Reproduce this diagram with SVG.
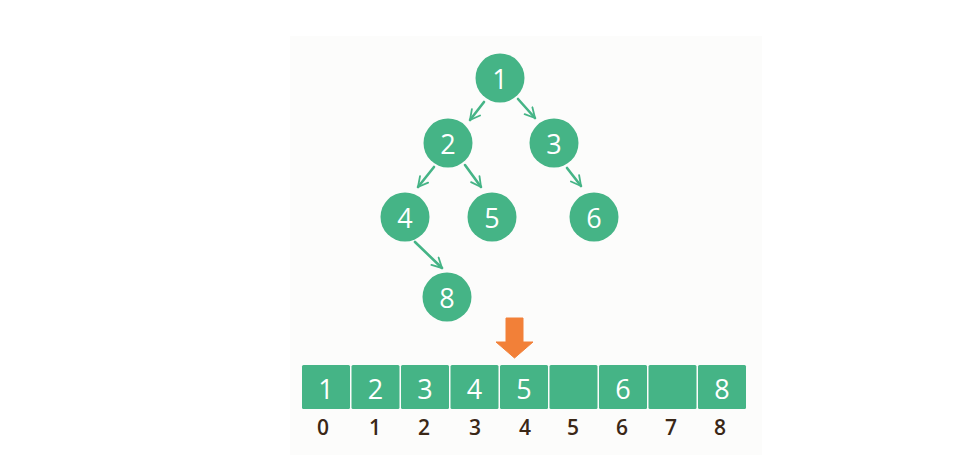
<svg xmlns="http://www.w3.org/2000/svg" width="979" height="464" viewBox="0 0 979 464">
  <defs>
    <marker id="ah" viewBox="0 0 10 10" refX="9" refY="5" markerWidth="5" markerHeight="5" orient="auto" markerUnits="strokeWidth">
      <path d="M1.5,1 L9,5 L1.5,9" fill="none" stroke="#45b486" stroke-width="1.4" stroke-linecap="round" stroke-linejoin="round"/>
    </marker>
  </defs>
  <style>
    .node circle { fill: #45b486; }
    .lbl { font-family: "Open Sans", "Liberation Sans", sans-serif; font-size: 27px; fill: #ffffff; text-anchor: middle; dominant-baseline: central; }
    .cell { fill: #45b486; }
    .idx { font-family: "Open Sans", "Liberation Sans", sans-serif; font-size: 21px; font-weight: 600; fill: #3a2716; text-anchor: middle; dominant-baseline: central; }
    .edge { stroke: #45b486; stroke-width: 2.6; fill: none; stroke-linecap: round; marker-end: url(#ah); }
  </style>
  <rect x="0" y="0" width="979" height="464" fill="#ffffff"/>
  <rect x="290" y="36" width="472" height="419" fill="#fcfcfb"/>

  <g id="connectors">
    <line class="edge" x1="484" y1="102" x2="470" y2="120"/>
    <line class="edge" x1="518" y1="99" x2="535" y2="118"/>
    <line class="edge" x1="434" y1="167" x2="418" y2="187"/>
    <line class="edge" x1="465" y1="165" x2="481" y2="187"/>
    <line class="edge" x1="567" y1="168" x2="581" y2="186"/>
    <line class="edge" x1="415" y1="242" x2="442" y2="268"/>
  </g>

  <g id="node-1" class="node"><circle cx="500" cy="78" r="24.5"/><text class="lbl" x="500" y="78">1</text></g>
  <g id="node-2" class="node"><circle cx="448" cy="143" r="24.5"/><text class="lbl" x="448" y="143">2</text></g>
  <g id="node-3" class="node"><circle cx="554" cy="143" r="24.5"/><text class="lbl" x="554" y="143">3</text></g>
  <g id="node-4" class="node"><circle cx="405" cy="217" r="24.5"/><text class="lbl" x="405" y="217">4</text></g>
  <g id="node-5" class="node"><circle cx="492" cy="217" r="24.5"/><text class="lbl" x="492" y="217">5</text></g>
  <g id="node-6" class="node"><circle cx="594" cy="217" r="24.5"/><text class="lbl" x="594" y="217">6</text></g>
  <g id="node-8" class="node"><circle cx="447" cy="297" r="24.5"/><text class="lbl" x="447" y="297">8</text></g>

  <g id="pointer">
    <path d="M506,318 L523,318 L523,342 L533,342 L514.5,358 L496,342 L506,342 Z" fill="#f28038" stroke="#f28038" stroke-width="1" stroke-linejoin="round"/>
  </g>

  <g id="array">
    <rect class="cell" x="302" y="365" width="48" height="44" rx="1.5"/>
    <rect class="cell" x="351.5" y="365" width="48" height="44" rx="1.5"/>
    <rect class="cell" x="401" y="365" width="48" height="44" rx="1.5"/>
    <rect class="cell" x="450.5" y="365" width="48" height="44" rx="1.5"/>
    <rect class="cell" x="500" y="365" width="48" height="44" rx="1.5"/>
    <rect class="cell" x="549.5" y="365" width="48" height="44" rx="1.5"/>
    <rect class="cell" x="599" y="365" width="48" height="44" rx="1.5"/>
    <rect class="cell" x="648.5" y="365" width="48" height="44" rx="1.5"/>
    <rect class="cell" x="698" y="365" width="48" height="44" rx="1.5"/>
    <text class="lbl" x="326" y="388">1</text>
    <text class="lbl" x="375.5" y="388">2</text>
    <text class="lbl" x="425" y="388">3</text>
    <text class="lbl" x="474.5" y="388">4</text>
    <text class="lbl" x="524" y="388">5</text>
    <text class="lbl" x="623" y="388">6</text>
    <text class="lbl" x="722" y="388">8</text>
    <text class="idx" x="323" y="427">0</text>
    <text class="idx" x="375" y="427">1</text>
    <text class="idx" x="424" y="427">2</text>
    <text class="idx" x="475" y="427">3</text>
    <text class="idx" x="525" y="427">4</text>
    <text class="idx" x="573" y="427">5</text>
    <text class="idx" x="622" y="427">6</text>
    <text class="idx" x="671" y="427">7</text>
    <text class="idx" x="720" y="427">8</text>
  </g>
</svg>
